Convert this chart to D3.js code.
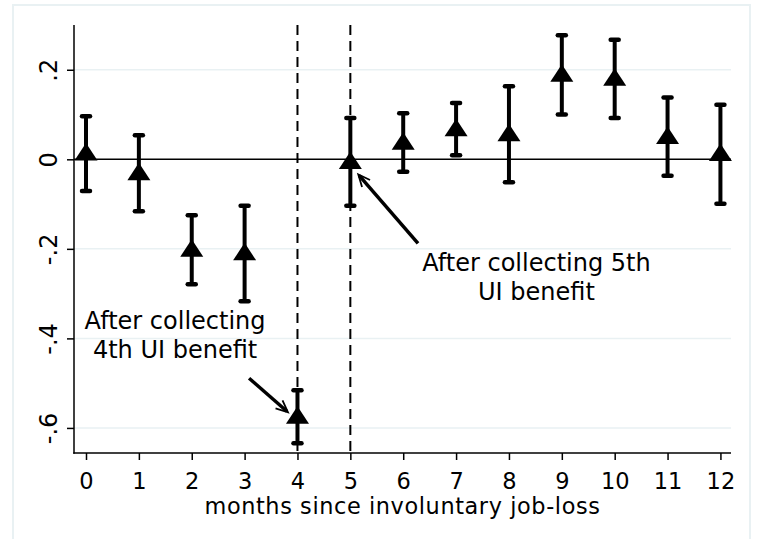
<!DOCTYPE html>
<html>
<head>
<meta charset="utf-8">
<script src="https://cdn.jsdelivr.net/npm/d3@7/dist/d3.min.js"></script>
<style>
  html, body { margin: 0; padding: 0; background: #fff; }
  svg { display: block; }
  text { font-family: "DejaVu Sans", sans-serif; fill: #000; }
</style>
</head>
<body>
<svg id="chart" width="759" height="539"></svg>
<script>
// ---- data ----
const months   = [0, 1, 2, 3, 4, 5, 6, 7, 8, 9, 10, 11, 12];
const estimate = [0.013, -0.031, -0.202, -0.210, -0.575, -0.006, 0.037, 0.067, 0.056, 0.189, 0.180, 0.050, 0.012];
const ciLower  = [-0.071, -0.116, -0.279, -0.317, -0.634, -0.104, -0.028, 0.009, -0.051, 0.100, 0.092, -0.037, -0.099];
const ciUpper  = [0.096, 0.054, -0.125, -0.104, -0.516, 0.092, 0.103, 0.126, 0.163, 0.277, 0.267, 0.138, 0.122];
const xTicks   = [0, 1, 2, 3, 4, 5, 6, 7, 8, 9, 10, 11, 12];
const yTicks   = [0.2, 0, -0.2, -0.4, -0.6];
const yTickLabels = [".2", "0", "-.2", "-.4", "-.6"];
const refLines = [4, 5];
const xTitle = "months since involuntary job-loss";
const notes = [
  { lines: ["After collecting 5th", "UI benefit"], x: 8.52, y: -0.249, tail: [6.28, -0.188], tip: [5.15, -0.034] },
  { lines: ["After collecting", "4th UI benefit"], x: 1.685, y: -0.378, tail: [3.085, -0.489], tip: [3.82, -0.565] }
];

// ---- layout ----
const svg = d3.select("#chart");
const L = 74, R = 731, T = 25, B = 453;
const x = d3.scaleLinear().domain([-0.227, 12.2]).range([L, R]);
const y = d3.scaleLinear().domain([-0.656, 0.3]).range([B, T]);
const light = "#e9f1f3";

// outer frame
svg.append("rect").attr("x", 13).attr("y", 5).attr("width", 737).attr("height", 560)
  .attr("fill", "#fff").attr("stroke", light).attr("stroke-width", 2);

// gridlines
svg.append("g").selectAll("line").data(yTicks.filter(d => d !== 0)).join("line")
  .attr("x1", L).attr("x2", R).attr("y1", d => y(d)).attr("y2", d => y(d))
  .attr("stroke", light).attr("stroke-width", 1.5);

// zero line
svg.append("line").attr("x1", L).attr("x2", R).attr("y1", y(0)).attr("y2", y(0))
  .attr("stroke", "#000").attr("stroke-width", 1.5);

// reference dashed lines
svg.append("g").selectAll("line").data(refLines).join("line")
  .attr("x1", d => x(d)).attr("x2", d => x(d)).attr("y1", T).attr("y2", B)
  .attr("stroke", "#000").attr("stroke-width", 2).attr("stroke-dasharray", "10,6");

// axes
const yAxis = d3.axisLeft(y).tickValues(yTicks).tickSize(7).tickFormat((d, i) => yTickLabels[i]);
const gy = svg.append("g").attr("transform", `translate(${L},0)`).call(yAxis);
gy.select(".domain").remove();
gy.selectAll(".tick line").attr("stroke", "#000").attr("stroke-width", 1.5);
gy.selectAll(".tick text").attr("font-size", 24).attr("font-family", "DejaVu Sans")
  .attr("x", null).attr("dy", null)
  .attr("text-anchor", "middle")
  .attr("transform", "translate(-17,0) rotate(-90)");
svg.append("line").attr("x1", L).attr("x2", L).attr("y1", T).attr("y2", B + 0.75)
  .attr("stroke", "#000").attr("stroke-width", 1.5);

const xAxis = d3.axisBottom(x).tickValues(xTicks).tickSize(7).tickFormat(d3.format("d"));
const gx = svg.append("g").attr("transform", `translate(0,${B})`).call(xAxis);
gx.select(".domain").remove();
gx.selectAll(".tick line").attr("stroke", "#000").attr("stroke-width", 1.5);
gx.selectAll(".tick text").attr("font-size", 22.5).attr("font-family", "DejaVu Sans")
  .attr("y", 35.5).attr("dy", null);
svg.append("line").attr("x1", L - 0.75).attr("x2", R).attr("y1", B).attr("y2", B)
  .attr("stroke", "#000").attr("stroke-width", 1.5);

svg.append("text").attr("x", (L + R) / 2).attr("y", 514).attr("text-anchor", "middle")
  .attr("font-size", 22.4).attr("letter-spacing", 0.6).text(xTitle);

// error bars
const rows = months.map((m, i) => ({ m, e: estimate[i], lo: ciLower[i], hi: ciUpper[i] }));
const eb = svg.append("g").attr("stroke", "#000").attr("stroke-linecap", "round");
eb.selectAll("line.v").data(rows).join("line").attr("class", "v")
  .attr("x1", d => x(d.m)).attr("x2", d => x(d.m)).attr("y1", d => y(d.lo)).attr("y2", d => y(d.hi))
  .attr("stroke-width", 4).attr("stroke-linecap", "butt");
["lo", "hi"].forEach(k => {
  eb.selectAll("line.c" + k).data(rows).join("line").attr("class", "c" + k)
    .attr("x1", d => x(d.m) - 4).attr("x2", d => x(d.m) + 4)
    .attr("y1", d => y(d[k])).attr("y2", d => y(d[k]))
    .attr("stroke-width", 4.5);
});

// triangle markers
svg.append("g").selectAll("path").data(rows).join("path")
  .attr("d", d => { const cx = x(d.m), cy = y(d.e);
    return `M${cx},${cy - 10.5}L${cx + 11.5},${cy + 7}L${cx - 11.5},${cy + 7}Z`; })
  .attr("fill", "#000");

// annotations
notes.forEach(n => {
  const t = svg.append("text").attr("text-anchor", "middle").attr("font-size", 24);
  n.lines.forEach((s, i) => t.append("tspan").attr("x", x(n.x)).attr("y", y(n.y) + i * 29.5).text(s));
  const x1 = x(n.tail[0]), y1 = y(n.tail[1]), x2 = x(n.tip[0]), y2 = y(n.tip[1]);
  const ang = Math.atan2(y2 - y1, x2 - x1);
  const g = svg.append("g").attr("stroke", "#000").attr("fill", "none");
  g.append("line").attr("x1", x1).attr("y1", y1).attr("x2", x2 - 1.5 * Math.cos(ang)).attr("y2", y2 - 1.5 * Math.sin(ang))
    .attr("stroke-width", 3.5);
  const hl = 13, ha = 0.42;
  g.append("path")
    .attr("d", `M${x2 - hl * Math.cos(ang - ha)},${y2 - hl * Math.sin(ang - ha)}L${x2},${y2}L${x2 - hl * Math.cos(ang + ha)},${y2 - hl * Math.sin(ang + ha)}`)
    .attr("stroke-width", 1.8).attr("stroke-linejoin", "miter");
});
</script>
</body>
</html>
